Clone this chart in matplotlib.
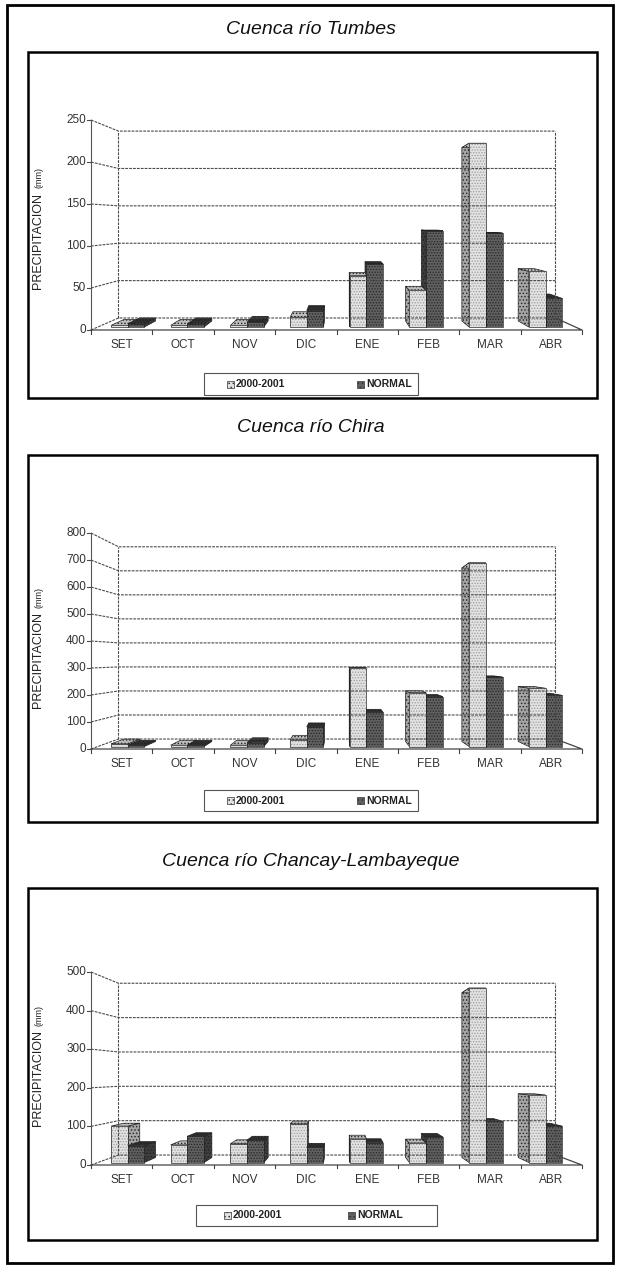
import matplotlib
matplotlib.use('Agg')
import matplotlib.pyplot as plt
from matplotlib.patches import Polygon, Rectangle
from matplotlib.lines import Line2D

plt.rcParams['font.family'] = ['Liberation Sans', 'DejaVu Sans']
plt.rcParams['hatch.linewidth'] = 0.6

# ---------------- data ----------------
months = ['SET', 'OCT', 'NOV', 'DIC', 'ENE', 'FEB', 'MAR', 'ABR']
series_names = ['2000-2001', 'NORMAL']

titles = ['Cuenca río Tumbes', 'Cuenca río Chira', 'Cuenca río Chancay-Lambayeque']

tumbes_2000 = [2, 2, 2, 12, 63, 45, 225, 68]
tumbes_normal = [4, 4, 6, 20, 77, 118, 115, 35]

chira_2000 = [10, 5, 5, 25, 300, 205, 700, 222]
chira_normal = [5, 5, 15, 75, 130, 190, 265, 195]

chancay_2000 = [97, 47, 50, 103, 63, 52, 465, 180]
chancay_normal = [45, 70, 60, 40, 53, 68, 110, 97]

tumbes_ticks = [0, 50, 100, 150, 200, 250]
chira_ticks = [0, 100, 200, 300, 400, 500, 600, 700, 800]
chancay_ticks = [0, 100, 200, 300, 400, 500]

ylabel_main = 'PRECIPITACION'
ylabel_unit = '(mm)'

# ---------------- layout (pixels) ----------------
W, H = 619, 1268
fig = plt.figure(figsize=(W / 100, H / 100), dpi=100)


def fx(x):
    return x / W


def fy(y):
    return 1 - y / H


panels = [
    dict(title=titles[0], s1=tumbes_2000, s2=tumbes_normal, ticks=tumbes_ticks,
         title_y=30, box=(28, 52, 597, 398), y0=330, ytop=120, cyf=0.52,
         legend=(204, 373, 418, 395), leg_sq=(227, 357), ylab_y=241),
    dict(title=titles[1], s1=chira_2000, s2=chira_normal, ticks=chira_ticks,
         title_y=428, box=(28, 455, 597, 822), y0=749, ytop=533, cyf=0.42,
         legend=(204, 790, 418, 811), leg_sq=(227, 357), ylab_y=660),
    dict(title=titles[2], s1=chancay_2000, s2=chancay_normal, ticks=chancay_ticks,
         title_y=862, box=(28, 888, 597, 1240), y0=1165, ytop=972, cyf=0.47,
         legend=(196, 1205, 437, 1226), leg_sq=(224, 348), ylab_y=1078),
]

XL, XR = 91, 582          # front frame in pixels
K = 0.89                  # back-wall shrink factor
CXC = 3.57                # vanishing centre (category units)
BAR_W = 0.28
Z0, Z1 = 0.25, 0.75

LIGHT = dict(front='#e2e2e2', hatch='#9c9c9c', side='#a6a6a6', top='#bdbdbd')
DARK = dict(front='#606060', hatch='#262626', side='#3c3c3c', top='#2e2e2e')
GRID = '#4a4a4a'

# outer border
fig.add_artist(Rectangle((fx(7), fy(1263)), fx(613) - fx(7), fy(5) - fy(1263),
                         transform=fig.transFigure, fill=False, ec='black', lw=2.0))

for p in panels:
    ymax = p['ticks'][-1]
    cy = p['cyf'] * ymax

    def P(x, v, z, cy=cy):
        s = 1 - (1 - K) * z
        return (CXC + (x - CXC) * s, cy + (v - cy) * s)

    # panel box and title
    bx0, by0, bx1, by1 = p['box']
    fig.add_artist(Rectangle((fx(bx0), fy(by1)), fx(bx1) - fx(bx0), fy(by0) - fy(by1),
                             transform=fig.transFigure, fill=False, ec='black', lw=1.8))
    fig.text(fx(311), fy(p['title_y']), p['title'], ha='center', va='center',
             fontsize=14, style='italic', color='#111')

    ax = fig.add_axes([fx(XL), fy(p['y0']), fx(XR) - fx(XL), (p['y0'] - p['ytop']) / H])
    ax.set_xlim(-0.5, 7.5)
    ax.set_ylim(0, ymax)
    ax.axis('off')

    def line(pts, **kw):
        xs = [q[0] for q in pts]
        ys = [q[1] for q in pts]
        ax.add_line(Line2D(xs, ys, clip_on=False, **kw))

    xa, xb = -0.5, 7.5
    # back wall gridlines
    for t in p['ticks']:
        line([P(xa, t, 0), P(xa, t, 1), P(xb, t, 1)], color=GRID, lw=0.8,
             ls=(0, (2.5, 1)))
        line([(xa - 0.07, t), (xa, t)], color=GRID, lw=0.8)
        ax.annotate(str(t), (xa, t), xytext=(-5, 0), textcoords='offset pixels',
                    ha='right', va='center', fontsize=8.5, color='#333',
                    annotation_clip=False)
    # walls and floor
    line([P(xa, 0, 1), P(xa, ymax, 1)], color=GRID, lw=0.8, ls=(0, (2.5, 1)))
    line([P(xb, 0, 1), P(xb, ymax, 1)], color=GRID, lw=0.8, ls=(0, (2.5, 1)))
    line([P(xa, 0, 0), P(xa, ymax, 0)], color='#555', lw=0.8)
    line([P(xa, 0, 0), P(xb, 0, 0), P(xb, 0, 1)], color='#444', lw=0.9)
    for i in range(9):
        line([(xa + i, 0), (xa + i, -0.018 * ymax)], color='#444', lw=0.8)

    for i, m in enumerate(months):
        ax.annotate(m, (i, 0), xytext=(0, -15), textcoords='offset pixels',
                    ha='center', va='center', fontsize=8.5, color='#333',
                    annotation_clip=False)

    # bars
    bars = []
    for i in range(len(months)):
        bars.append((i - BAR_W, i, p['s1'][i], LIGHT))
        bars.append((i, i + BAR_W, p['s2'][i], DARK))
    bars.sort(key=lambda b: -abs((b[0] + b[1]) / 2 - CXC))

    for x0, x1, h, col in bars:
        faces = []
        if x1 < CXC:
            faces.append(([P(x1, 0, Z0), P(x1, 0, Z1), P(x1, h, Z1), P(x1, h, Z0)], col['side']))
        elif x0 > CXC:
            faces.append(([P(x0, 0, Z0), P(x0, 0, Z1), P(x0, h, Z1), P(x0, h, Z0)], col['side']))
        faces.append(([P(x0, h, Z0), P(x1, h, Z0), P(x1, h, Z1), P(x0, h, Z1)], col['top']))
        for pts, fc in faces:
            ax.add_patch(Polygon(pts, closed=True, fc=fc, ec='#222', lw=0.5,
                                 clip_on=False, hatch='.....'))
        front = [P(x0, 0, Z0), P(x1, 0, Z0), P(x1, h, Z0), P(x0, h, Z0)]
        ax.add_patch(Polygon(front, closed=True, fc=col['front'], ec=col['hatch'],
                             lw=0, hatch='......', clip_on=False))
        ax.add_patch(Polygon(front, closed=True, fill=False, ec='#222', lw=0.5,
                             clip_on=False))

    # y label
    fig.text(fx(38), fy(p['ylab_y']), ylabel_main, rotation=90, ha='center',
             va='center', fontsize=9, color='#222')
    fig.text(fx(39.5), fy(p['ylab_y'] - 63), ylabel_unit, rotation=90, ha='center',
             va='center', fontsize=6.5, color='#222')

    # legend
    lx0, ly0, lx1, ly1 = p['legend']
    fig.add_artist(Rectangle((fx(lx0), fy(ly1)), fx(lx1) - fx(lx0), fy(ly0) - fy(ly1),
                             transform=fig.transFigure, fill=False, ec='#555', lw=0.8))
    lyc = (ly0 + ly1) / 2
    for sx, name, col in zip(p['leg_sq'], series_names, [LIGHT, DARK]):
        fig.add_artist(Rectangle((fx(sx), fy(lyc + 3.5)), fx(7), 7 / H,
                                 transform=fig.transFigure, fc=col['front'],
                                 ec='#333', lw=0.5, hatch='....'))
        fig.text(fx(sx + 9), fy(lyc), name, ha='left', va='center', fontsize=7.5,
                 fontweight='bold', color='#222')

fig.savefig('out.png', dpi=100, facecolor='white')
